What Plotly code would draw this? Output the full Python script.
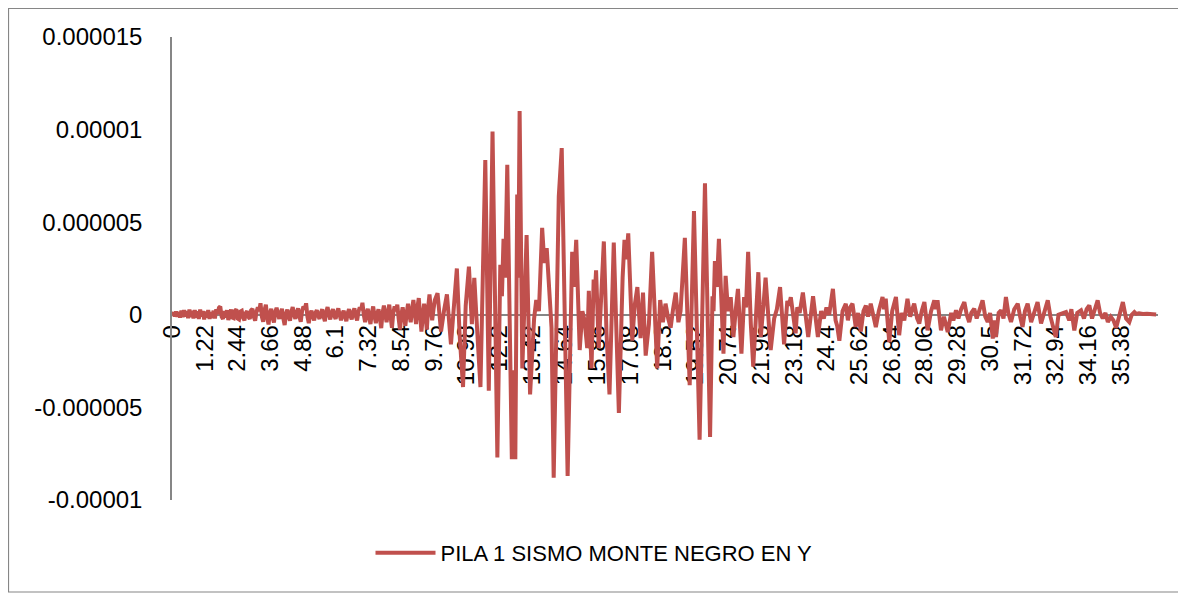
import plotly.graph_objects as go

# ---- Data: time (s) and displacement (units of 1e-6) ----
# Pre-event segment (0 - 9.75 s)
pre_time_s = [
    0.00, 0.05, 0.10, 0.15, 0.20, 0.25, 0.30, 0.35, 0.40, 0.45, 0.50, 0.55, 0.60, 0.65, 0.70, 0.75, 0.80, 0.85, 0.90, 0.95,
    1.00, 1.05, 1.10, 1.15, 1.20, 1.25, 1.30, 1.35, 1.40, 1.45, 1.50, 1.55, 1.60, 1.65, 1.70, 1.75, 1.80, 1.85, 1.90, 1.95,
    2.00, 2.05, 2.10, 2.15, 2.20, 2.25, 2.30, 2.35, 2.40, 2.45, 2.50, 2.55, 2.60, 2.65, 2.70, 2.75, 2.80, 2.85, 2.90, 2.95,
    3.00, 3.05, 3.10, 3.15, 3.20, 3.25, 3.30, 3.35, 3.40, 3.45, 3.50, 3.55, 3.60, 3.65, 3.70, 3.75, 3.80, 3.85, 3.90, 3.95,
    4.00, 4.05, 4.10, 4.15, 4.20, 4.25, 4.30, 4.35, 4.40, 4.45, 4.50, 4.55, 4.60, 4.65, 4.70, 4.75, 4.80, 4.85, 4.90, 4.95,
    5.00, 5.05, 5.10, 5.15, 5.20, 5.25, 5.30, 5.35, 5.40, 5.45, 5.50, 5.55, 5.60, 5.65, 5.70, 5.75, 5.80, 5.85, 5.90, 5.95,
    6.00, 6.05, 6.10, 6.15, 6.20, 6.25, 6.30, 6.35, 6.40, 6.45, 6.50, 6.55, 6.60, 6.65, 6.70, 6.75, 6.80, 6.85, 6.90, 6.95,
    7.00, 7.05, 7.10, 7.15, 7.20, 7.25, 7.30, 7.35, 7.40, 7.45, 7.50, 7.55, 7.60, 7.65, 7.70, 7.75, 7.80, 7.85, 7.90, 7.95,
    8.00, 8.05, 8.10, 8.15, 8.20, 8.25, 8.30, 8.35, 8.40, 8.45, 8.50, 8.55, 8.60, 8.65, 8.70, 8.75, 8.80, 8.85, 8.90, 8.95,
    9.00, 9.05, 9.10, 9.15, 9.20, 9.25, 9.30, 9.35, 9.40, 9.45, 9.50, 9.55, 9.60, 9.65, 9.70, 9.75,
]
pre_disp_e6 = [
    0.00, 0.12, -0.08, 0.18, -0.10, 0.15, -0.15, 0.22, -0.12, 0.25, -0.10, 0.20, -0.18, 0.28, -0.12, 0.22, -0.20, 0.25, -0.15, 0.18,
    -0.22, 0.28, -0.10, 0.20, -0.25, 0.18, -0.15, 0.25, -0.22, 0.15, -0.18, 0.22, -0.20, 0.30, 0.05, 0.38, 0.45, -0.10, -0.22, 0.20,
    -0.15, 0.25, -0.28, 0.15, 0.28, -0.15, -0.18, 0.22, 0.30, -0.20, -0.25, 0.18, 0.22, -0.15, -0.30, 0.10, 0.20, -0.12, -0.22, 0.25,
    0.32, -0.10, -0.32, 0.15, 0.40, 0.20, 0.62, -0.10, -0.38, 0.25, 0.55, -0.15, -0.52, 0.10, 0.32, -0.15, -0.42, 0.15, 0.38, 0.05,
    -0.22, 0.10, 0.32, -0.20, -0.55, 0.05, 0.28, -0.10, -0.32, 0.15, 0.42, 0.00, -0.22, 0.15, 0.35, -0.10, -0.38, 0.20, 0.45, 0.30,
    0.62, -0.10, -0.45, 0.05, 0.22, -0.10, -0.30, 0.10, 0.25, -0.05, -0.22, 0.10, 0.30, -0.10, -0.35, 0.15, 0.42, 0.05, -0.25, 0.10,
    0.30, -0.05, -0.22, 0.12, 0.35, 0.00, -0.30, 0.05, 0.22, -0.10, -0.35, 0.10, 0.30, -0.05, -0.25, 0.15, 0.35, -0.05, -0.30, 0.15,
    0.40, 0.25, 0.65, 0.00, -0.40, 0.10, 0.32, -0.15, -0.50, 0.10, 0.45, -0.05, -0.45, 0.05, 0.30, -0.20, -0.72, 0.10, 0.50, 0.05,
    -0.40, 0.10, 0.55, -0.10, -0.70, 0.10, 0.45, 0.20, 0.55, -0.20, -0.80, 0.00, 0.40, -0.10, -0.60, 0.10, 0.60, 0.00, -0.40, 0.30,
    0.80, 0.10, -0.50, 0.40, 0.90, 0.00, -0.90, -0.10, 0.60, 0.00, -0.80, 0.40, 1.10, 0.30, -0.30, 0.30,
]

# Strong motion and coda (9.8 s - end), turning points
main_time_s = [
    9.80, 9.90,
    10.03, 10.15, 10.25, 10.40, 10.50, 10.62, 10.72, 10.85, 10.95, 11.07, 11.18, 11.27, 11.38, 11.50, 11.68, 11.81, 11.95,
    12.13, 12.24, 12.30, 12.36, 12.42, 12.50, 12.67, 12.74, 12.80, 12.87, 12.91, 12.96, 13.06, 13.14, 13.22, 13.35, 13.50,
    13.58, 13.68, 13.80, 13.88, 13.97, 14.08, 14.15, 14.23, 14.42, 14.53, 14.75, 14.92, 14.98, 15.07, 15.20, 15.30, 15.38,
    15.48, 15.54, 15.64, 15.72, 15.76, 15.81, 15.91, 16.00, 16.10, 16.20, 16.31, 16.47, 16.66, 16.80, 16.87, 16.94, 17.01,
    17.16, 17.25, 17.35, 17.47, 17.56, 17.66, 17.78, 17.90, 18.09, 18.20, 18.30, 18.40, 18.50, 18.59, 18.68, 18.78, 18.88,
    18.96, 19.12, 19.30, 19.46, 19.67, 19.87, 20.06, 20.15, 20.19, 20.24, 20.31, 20.39, 20.56, 20.64, 20.73, 20.83, 20.93,
    21.02, 21.10, 21.23, 21.33, 21.40, 21.48, 21.58, 21.67, 21.86, 21.95, 22.05, 22.13, 22.32, 22.45, 22.55, 22.67, 22.82,
    22.94, 23.00, 23.07, 23.25, 23.31, 23.40, 23.52, 23.72, 23.90, 24.08, 24.20, 24.30, 24.40, 24.50, 24.64, 24.74, 24.80,
    24.88, 25.00, 25.12, 25.20, 25.28, 25.37, 25.49, 25.58, 25.68, 25.78, 25.87, 25.95, 26.05, 26.15, 26.24, 26.35, 26.49,
    26.55, 26.61, 26.74, 26.85, 26.99, 27.11, 27.20, 27.30, 27.42, 27.52, 27.60, 27.67, 27.78, 27.86, 27.95, 28.05, 28.17,
    28.30, 28.42, 28.48, 28.54, 28.67, 28.78, 28.92, 29.05, 29.13, 29.23, 29.32, 29.42, 29.54, 29.63, 29.72, 29.80, 29.91,
    30.00, 30.10, 30.22, 30.32, 30.41, 30.50, 30.60, 30.66, 30.72, 30.82, 30.91, 31.00, 31.09, 31.18, 31.28, 31.40, 31.53,
    31.62, 31.71, 31.80, 31.90, 32.03, 32.15, 32.27, 32.40, 32.52, 32.65, 32.75, 32.83, 32.95, 33.05, 33.20, 33.33, 33.45,
    33.53, 33.64, 33.75, 33.89, 34.00, 34.10, 34.20, 34.30, 34.40, 34.51, 34.60, 34.70, 34.80, 34.89, 35.00, 35.10, 35.20,
    35.30, 35.38, 35.45, 35.57, 35.69, 35.78, 35.88, 35.95, 36.05, 36.20, 36.35, 36.50, 36.69,
]
main_disp_e6 = [
    0.80, 1.17,
    -0.90, 0.30, 1.10, -1.60, 0.50, 2.50, -1.00, -3.90, 0.50, 2.60, -0.50, 2.00, -0.90, -3.90, 8.36, -4.10, 9.90,
    -7.70, 2.70, 1.00, 4.10, 2.00, 8.10, -7.80, -3.00, -7.80, 6.50, 2.00, 11.00, -2.90, 0.50, 4.30, -4.30, -0.20,
    0.80, 0.20, 4.70, 2.80, 3.60, 1.20, -0.70, -8.80, 6.40, 9.00, -8.70, 3.40, 1.50, 4.05, -1.90, 0.20, -0.30,
    -1.80, 1.30, -2.90, 1.90, 1.00, 2.40, -1.80, 0.50, 3.96, -1.00, -4.30, 3.90, -5.30, 2.00, 4.05, 3.00, 4.40,
    -1.40, 0.50, 1.50, -1.26, 1.20, -2.20, -0.50, 3.40, -2.90, 0.80, -0.40, 0.60, -0.20, -0.70, 0.30, 1.20, -0.40,
    0.20, 4.15, -3.80, 5.60, -6.75, 7.10, -6.60, 1.00, 0.20, 2.90, 1.50, 4.10, -2.10, 2.10, 0.20, 0.95, -1.20,
    0.30, 1.40, -2.10, 0.95, 0.40, 3.40, -0.50, -2.80, 2.30, -1.20, 0.50, 2.00, -1.90, -0.20, 0.30, 1.50, -1.60,
    0.75, 0.50, 0.95, -1.00, 0.40, 0.10, 1.20, -1.20, 1.00, -1.20, 0.20, -0.20, 0.40, 0.00, 1.40, -0.30, -0.60,
    -1.40, 0.20, 0.60, -0.30, 0.40, 0.60, -0.66, 0.10, -0.90, 0.20, 0.50, -0.10, 0.60, -0.20, -0.66, 0.20, 0.96,
    0.30, 0.87, -1.47, 0.20, 0.96, -1.10, 0.10, -0.30, 0.87, -0.10, 0.30, 0.60, -0.20, -0.47, 0.20, 0.69, -0.84,
    0.20, 0.78, 0.30, 0.78, -0.84, -0.10, -0.93, 0.10, -0.30, 0.24, -0.20, 0.30, 0.69, 0.00, -0.39, 0.10, 0.33,
    -0.20, 0.30, 0.78, -0.10, -0.39, 0.10, -1.28, -0.30, -1.20, 0.10, 0.24, -0.20, 0.96, 0.10, -0.39, 0.30, 0.60,
    -0.10, -0.66, 0.20, 0.60, -0.39, 0.20, 0.69, -0.47, 0.20, 0.78, -0.10, -0.47, -1.20, 0.00, 0.10, 0.15, -0.30,
    0.30, -0.84, 0.10, 0.24, -0.20, 0.30, 0.51, -0.20, 0.30, 0.78, 0.10, -0.20, 0.10, -0.39, -0.10, -0.30, -0.70,
    0.00, 0.30, 0.69, -0.20, -0.39, 0.00, 0.15, 0.05, 0.08, 0.04, 0.06, 0.03, 0.02,
]

series_name = "PILA 1 SISMO MONTE NEGRO EN Y"

x_tick_vals = [0, 1.22, 2.44, 3.66, 4.88, 6.1, 7.32, 8.54, 9.76, 10.98, 12.2, 13.42, 14.64, 15.86, 17.08,
               18.3, 19.52, 20.74, 21.96, 23.18, 24.4, 25.62, 26.84, 28.06, 29.28, 30.5, 31.72, 32.94, 34.16, 35.38]
x_tick_text = ["0", "1.22", "2.44", "3.66", "4.88", "6.1", "7.32", "8.54", "9.76", "10.98", "12.2", "13.42", "14.64",
               "15.86", "17.08", "18.3", "19.52", "20.74", "21.96", "23.18", "24.4", "25.62", "26.84", "28.06", "29.28",
               "30.5", "31.72", "32.94", "34.16", "35.38"]

y_tick_vals = [-1e-5, -5e-6, 0, 5e-6, 1e-5, 1.5e-5]
y_tick_text = ["-0.00001", "-0.000005", "0", "0.000005", "0.00001", "0.000015"]

assert len(pre_time_s) == len(pre_disp_e6)
assert len(main_time_s) == len(main_disp_e6)

time_s = pre_time_s + main_time_s
disp = [v * 1e-6 for v in pre_disp_e6 + main_disp_e6]

# The page body adds an 8px offset; figure coordinates = page coordinates - 8
OFF = 8
W, H = 1186 - OFF, 594 - OFF
ML, MT = 172 - OFF, 37 - OFF
PLOT_RIGHT, PLOT_BOTTOM = 1158 - OFF, 500 - OFF
MR, MB = W - PLOT_RIGHT, H - PLOT_BOTTOM
PW, PH = W - ML - MR, H - MT - MB
Y_MIN, Y_MAX = -1e-5, 1.5e-5


def px_to_paper_x(px):
    return (px - OFF - ML) / PW


def px_to_paper_y(py):
    return (PLOT_BOTTOM - (py - OFF)) / PH


fig = go.Figure()
fig.add_trace(go.Scatter(
    x=time_s, y=disp, mode="lines", name=series_name,
    line=dict(color="#C0504D", width=4),
))

tick_font = dict(family="Liberation Sans, Arial, sans-serif", size=24, color="#000000")

fig.update_layout(
    width=W, height=H,
    margin=dict(l=ML, r=MR, t=MT, b=MB, pad=0),
    paper_bgcolor="white", plot_bgcolor="white",
    showlegend=True,
    legend=dict(
        orientation="h", x=px_to_paper_x(594), xanchor="center",
        y=px_to_paper_y(553), yanchor="middle",
        font=dict(family="Liberation Sans, Arial, sans-serif", size=22, color="#000000"),
        itemwidth=60, bgcolor="rgba(0,0,0,0)",
    ),
    xaxis=dict(
        range=[0, 36.76], tickmode="array", tickvals=x_tick_vals, ticktext=x_tick_text,
        tickangle=-90, anchor="free", position=(0 - Y_MIN) / (Y_MAX - Y_MIN),
        showline=True, linecolor="#868686", linewidth=1.5, showgrid=False, zeroline=False,
        ticks="", tickfont=tick_font, layer="below traces",
    ),
    yaxis=dict(
        range=[Y_MIN, Y_MAX], tickmode="array", tickvals=y_tick_vals, ticktext=y_tick_text,
        showline=True, linecolor="#868686", linewidth=1.5, showgrid=False, zeroline=False,
        ticks="", ticklabelstandoff=23, tickfont=tick_font,
    ),
    shapes=[dict(
        type="rect", xref="paper", yref="paper",
        x0=px_to_paper_x(8.5), x1=px_to_paper_x(1180), y0=px_to_paper_y(592), y1=px_to_paper_y(8.5),
        line=dict(color="#868686", width=1.2), fillcolor="rgba(0,0,0,0)", layer="below",
    )],
)

fig.write_html("out.html")
